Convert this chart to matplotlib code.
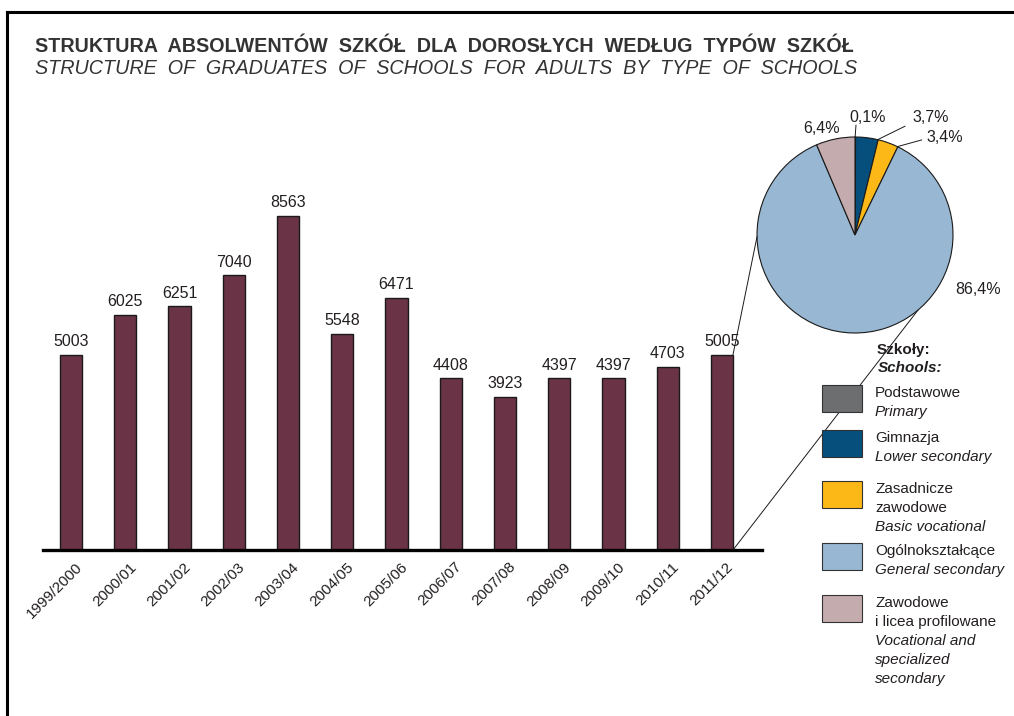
import numpy as np
import matplotlib
matplotlib.use('Agg')
import matplotlib.pyplot as plt
from matplotlib.patches import Rectangle, ConnectionPatch
from matplotlib.lines import Line2D
from matplotlib.transforms import ScaledTranslation

plt.rcParams['font.family'] = ['Liberation Sans', 'DejaVu Sans']

# dane
years = ["1999/2000", "2000/01", "2001/02", "2002/03", "2003/04", "2004/05", "2005/06",
         "2006/07", "2007/08", "2008/09", "2009/10", "2010/11", "2011/12"]
graduates = [5003, 6025, 6251, 7040, 8563, 5548, 6471, 4408, 3923, 4397, 4397, 4703, 5005]

pie_labels = ["0,1%", "3,7%", "3,4%", "86,4%", "6,4%"]
pie_shares = [0.1, 3.7, 3.4, 86.4, 6.4]
pie_colors = ["#6d6e70", "#064f7d", "#fbb817", "#98b7d2", "#c4abad"]

legend_pl = [["Podstawowe"], ["Gimnazja"], ["Zasadnicze", "zawodowe"],
             ["Ogólnokształcące"], ["Zawodowe", "i licea profilowane"]]
legend_en = [["Primary"], ["Lower secondary"], ["Basic vocational"],
             ["General secondary"], ["Vocational and", "specialized", "secondary"]]

title_pl = "STRUKTURA  ABSOLWENTÓW  SZKÓŁ  DLA  DOROSŁYCH  WEDŁUG  TYPÓW  SZKÓŁ"
title_en = "STRUCTURE  OF  GRADUATES  OF  SCHOOLS  FOR  ADULTS  BY  TYPE  OF  SCHOOLS"

bar_color = "#6b3346"
txt = "#231f20"

W, H = 1014, 716
fig = plt.figure(figsize=(W / 100, H / 100), dpi=100)


def px(x0, y0, x1, y1):
    return [x0 / W, 1 - y1 / H, (x1 - x0) / W, (y1 - y0) / H]


# ramka
fig.add_artist(Line2D([7 / W, 1], [1 - 12 / H] * 2, color="black", lw=2.2))
fig.add_artist(Line2D([7 / W] * 2, [0, 1 - 12 / H], color="black", lw=2.2))

fig.text(35 / W, 1 - 47 / H, title_pl, fontsize=14.2, fontweight="bold", color="#333333", va="center")
fig.text(35 / W, 1 - 68 / H, title_en, fontsize=14.2, style="italic", color="#333333", va="center")

# slupki
ax = fig.add_axes(px(43, 100, 762, 550))
x = np.arange(len(years))
bw = 0.41
ax.bar(x, graduates, width=bw, color=bar_color, edgecolor="#1a1a1a", linewidth=1, zorder=2)
for xi, v in zip(x, graduates):
    ax.annotate(str(v), (xi, v), xytext=(0, 4), textcoords="offset points",
                ha="center", va="bottom", fontsize=11.5, color=txt)
ax.set_xlim(-0.516, 12.74)
ax.set_ylim(0, 11537)
for s in ["top", "left", "right"]:
    ax.spines[s].set_visible(False)
ax.spines["bottom"].set_linewidth(2.4)
ax.set_yticks([])
ax.set_xticks(x)
ax.set_xticklabels(years, rotation=45, ha="right", va="top", rotation_mode="anchor",
                   fontsize=11, color=txt)
ax.tick_params(axis="x", length=0, pad=7)
for lab in ax.get_xticklabels():
    lab.set_transform(lab.get_transform() + ScaledTranslation(0.04, 0, fig.dpi_scale_trans))

# kolo
pax = fig.add_axes(px(757, 137, 953, 333))
wedges, _ = pax.pie(pie_shares, colors=pie_colors, startangle=90, counterclock=False,
                    wedgeprops=dict(edgecolor="#1a1a1a", linewidth=0.8))
pax.set_xlim(-1, 1)
pax.set_ylim(-1, 1)

label_pos = [(0.13, 1.20), (0.77, 1.20), (0.92, 1.00), (1.26, -0.56), (-0.34, 1.09)]
leader_end = [(0.01, 1.12), (0.51, 1.11), (0.68, 0.97), None, None]
for w, lab, pos, le in zip(wedges, pie_labels, label_pos, leader_end):
    a = np.deg2rad(min(w.theta1, w.theta2) + 0.3)
    p = (np.cos(a), np.sin(a))
    pax.text(pos[0], pos[1], lab, ha="center", va="center", fontsize=11.5, color=txt)
    if le is not None:
        pax.add_line(Line2D([p[0], le[0]], [p[1], le[1]], color="#1a1a1a", lw=0.7, clip_on=False))

# linie laczace
last = len(years) - 1
for ang, yv in [(181, graduates[last]), (-50, 0)]:
    r = np.deg2rad(ang)
    cp = ConnectionPatch(xyA=(np.cos(r), np.sin(r)), coordsA=pax.transData,
                         xyB=(last + bw / 2, yv), coordsB=ax.transData,
                         color="#1a1a1a", lw=0.7)
    fig.add_artist(cp)

# legenda
fig.text(877 / W, 1 - 350 / H, "Szkoły:", fontsize=11, fontweight="bold", color=txt, va="center")
fig.text(878 / W, 1 - 368 / H, "Schools:", fontsize=11, fontweight="bold", style="italic",
         color=txt, va="center")
box_top = [385, 430, 481, 543, 595]
for col, top, pl, en in zip(pie_colors, box_top, legend_pl, legend_en):
    fig.add_artist(Rectangle((822 / W, 1 - (top + 27) / H), 40 / W, 27 / H,
                             facecolor=col, edgecolor="#333333", lw=0.8,
                             transform=fig.transFigure))
    lines = [(t, "normal") for t in pl] + [(t, "italic") for t in en]
    for i, (t, st) in enumerate(lines):
        fig.text(875 / W, 1 - (top + 8 + 19 * i) / H, t, fontsize=11, style=st,
                 color=txt, va="center")

fig.savefig("out.png", dpi=100)
